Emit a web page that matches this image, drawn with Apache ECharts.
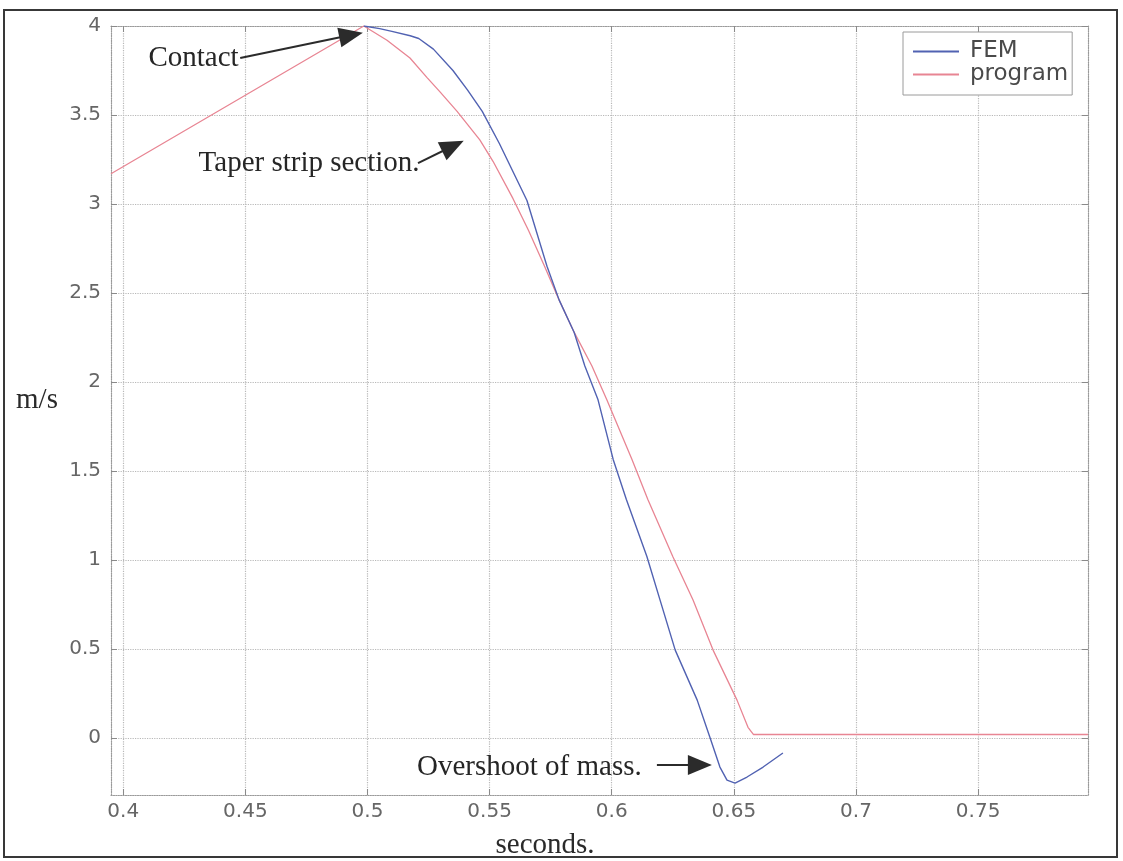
<!DOCTYPE html>
<html>
<head>
<meta charset="utf-8">
<title>Velocity vs time</title>
<script src="https://cdn.jsdelivr.net/npm/echarts@6/dist/echarts.min.js"></script>
<style>
  html, body { margin: 0; padding: 0; background: #ffffff; }
  #chart { width: 1123px; height: 861px; }
</style>
</head>
<body>
<div id="chart"></div>
<script>
// Tick positions of both axes
const xTicks = [0.4, 0.45, 0.5, 0.55, 0.6, 0.65, 0.7, 0.75];
const yTicks = [0, 0.5, 1, 1.5, 2, 2.5, 3, 3.5, 4];

// FEM simulation: time (s) and velocity (m/s)
const femTime  = [0.4985, 0.505, 0.510, 0.5175, 0.521, 0.527, 0.535, 0.541, 0.547, 0.554,
                  0.5653, 0.5735, 0.5785, 0.5846, 0.589, 0.5944, 0.6006, 0.606, 0.6144, 0.6198,
                  0.626, 0.635, 0.6403, 0.6443, 0.6472, 0.6505, 0.6554, 0.662, 0.6701];
const femSpeed = [4.0, 3.985, 3.97, 3.945, 3.93, 3.87, 3.75, 3.64, 3.52, 3.34,
                  3.02, 2.65, 2.46, 2.28, 2.09, 1.90, 1.565, 1.34, 1.02, 0.775,
                  0.494, 0.213, 0.0, -0.163, -0.236, -0.253, -0.219, -0.163, -0.084];

// Program output: time (s) and velocity (m/s)
const progTime  = [0.395, 0.4985, 0.508, 0.5174, 0.5244, 0.5297, 0.5367, 0.546, 0.5514, 0.5596,
                   0.566, 0.5725, 0.5785, 0.5846, 0.5919, 0.598, 0.6083, 0.6148, 0.625, 0.6333,
                   0.6415, 0.6513, 0.6558, 0.658, 0.795];
const progSpeed = [3.17, 4.0, 3.92, 3.82, 3.71, 3.63, 3.52, 3.36, 3.24, 3.03,
                   2.85, 2.65, 2.46, 2.28, 2.09, 1.90, 1.565, 1.34, 1.02, 0.775,
                   0.494, 0.213, 0.06, 0.02, 0.02];

const seriesNames = ['FEM', 'program'];
const noteTexts = ['Contact', 'Taper strip section.', 'Overshoot of mass.'];

// Placement of the callouts in data space: text centre, arrow tail, arrow head centre
const noteLayout = [
  { text: [0.4288, 3.817], tail: [0.4479, 3.82], head: [0.4933, 3.949] },
  { text: [0.4761, 3.228], tail: [0.5207, 3.23], head: [0.5350, 3.326] },
  { text: [0.5663, -0.163], tail: [0.6185, -0.152], head: [0.6361, -0.152] }
];

const zip = (xs, ys) => xs.map((x, i) => [x, ys[i]]);

const serif = '"Liberation Serif", "Times New Roman", serif';
const sans = '"DejaVu Sans", sans-serif';
const gridColor = '#b8b8b8';
const frameColor = '#9a9a9a';

function frameAxis(extra) {
  return Object.assign({
    type: 'value',
    axisLine: { show: true, onZero: false, lineStyle: { color: frameColor, width: 1.2, type: 'dotted' } },
    axisTick: { show: true, inside: true, length: 6, lineStyle: { color: '#8a8a8a' } },
    axisLabel: { show: false },
    splitLine: { show: false }
  }, extra);
}

const chart = echarts.init(document.getElementById('chart'), null, { renderer: 'canvas' });

chart.setOption({
  animation: false,
  backgroundColor: '#ffffff',
  grid: { left: 111, right: 35, top: 26, bottom: 66, outerBoundsMode: 'none' },
  xAxis: [
    frameAxis({
      min: 0.395, max: 0.795, position: 'bottom',
      axisTick: { show: true, inside: true, length: 6, customValues: xTicks, lineStyle: { color: '#8a8a8a' } },
      axisLabel: { show: true, customValues: xTicks, margin: 7, fontFamily: sans, fontSize: 20, color: '#666666' },
      splitLine: { show: true, lineStyle: { color: gridColor, type: 'dotted', width: 1.2 } }
    }),
    frameAxis({
      min: 0.395, max: 0.795, position: 'top',
      axisTick: { show: true, inside: true, length: 6, customValues: xTicks, lineStyle: { color: '#8a8a8a' } }
    })
  ],
  yAxis: [
    frameAxis({
      min: -0.32, max: 4, position: 'left',
      axisTick: { show: true, inside: true, length: 6, customValues: yTicks, lineStyle: { color: '#8a8a8a' } },
      axisLabel: { show: true, customValues: yTicks, margin: 10, fontFamily: sans, fontSize: 20, color: '#666666' },
      splitLine: { show: true, lineStyle: { color: gridColor, type: 'dotted', width: 1.2 } }
    }),
    frameAxis({
      min: -0.32, max: 4, position: 'right',
      axisTick: { show: true, inside: true, length: 6, customValues: yTicks, lineStyle: { color: '#8a8a8a' } }
    })
  ],
  legend: {
    data: seriesNames,
    orient: 'vertical',
    left: 903,
    top: 32,
    padding: [8, 4, 9, 9],
    itemWidth: 46,
    itemHeight: 12,
    itemGap: 0,
    itemStyle: { opacity: 0 },
    backgroundColor: '#ffffff',
    borderColor: '#9a9a9a',
    borderWidth: 1,
    textStyle: { fontFamily: sans, fontSize: 23, color: '#4a4a4a', lineHeight: 21, padding: [0, 0, 0, 6] }
  },
  graphic: [
    {
      type: 'rect', silent: true, z: 100,
      shape: { x: 4, y: 10, width: 1113, height: 847 },
      style: { fill: 'none', stroke: '#383838', lineWidth: 2 }
    },
    {
      type: 'text', silent: true, x: 37, y: 400,
      style: { text: 'm/s', font: '29px ' + serif, fill: '#2a2a2a', align: 'center', verticalAlign: 'middle' }
    },
    {
      type: 'text', silent: true, x: 545, y: 845,
      style: { text: 'seconds.', font: '29px ' + serif, fill: '#2a2a2a', align: 'center', verticalAlign: 'middle' }
    }
  ],
  series: [
    {
      name: seriesNames[0],
      type: 'line',
      data: zip(femTime, femSpeed),
      symbol: 'none',
      z: 3,
      lineStyle: { color: '#5162b2', width: 1.4 },
      itemStyle: { color: '#5162b2' }
    },
    {
      name: seriesNames[1],
      type: 'line',
      data: zip(progTime, progSpeed),
      symbol: 'none',
      z: 2,
      lineStyle: { color: '#e88593', width: 1.3 },
      itemStyle: { color: '#e88593' },
      markLine: {
        silent: true,
        symbol: ['none', 'triangle'],
        label: { show: false },
        lineStyle: { color: '#2b2b2b', width: 2, type: 'solid' },
        emphasis: { disabled: true },
        data: noteLayout.map(n => [
          { coord: n.tail, symbol: 'none' },
          { coord: n.head, symbol: 'triangle', symbolSize: [20, 24], itemStyle: { color: '#2b2b2b' } }
        ])
      },
      markPoint: {
        silent: true,
        symbol: 'circle',
        symbolSize: 1,
        itemStyle: { color: 'rgba(0,0,0,0)' },
        label: {
          show: true, position: 'inside', formatter: p => p.name,
          fontFamily: serif, fontSize: 29, color: '#262626'
        },
        data: noteLayout.map((n, i) => ({ name: noteTexts[i], coord: n.text }))
      }
    }
  ]
});
</script>
</body>
</html>
